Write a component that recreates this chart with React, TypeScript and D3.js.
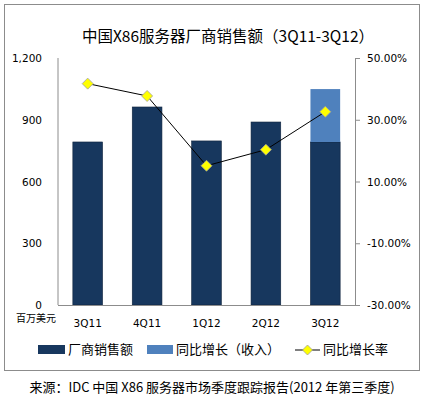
import React from "react";
import * as d3 from "d3";

const categories = ["3Q11", "4Q11", "1Q12", "2Q12", "3Q12"];
const sales = [792, 962, 797, 889, 792];
const growthIncrement = [0, 0, 0, 0, 257];
const growthRate = [41.7, 37.7, 15.1, 20.3, 32.6];
const leftTicks = [0, 300, 600, 900, 1200];
const rightTicks = [-30, -10, 10, 30, 50];

const W = 424;
const H = 398;
const M = { left: 58, right: 355, top: 58, bottom: 305 };
const numFont = "'DejaVu Sans', Verdana, sans-serif";
const cjkFont = "'Noto Sans CJK SC', 'DejaVu Sans', sans-serif";

export default function App() {
  const x = d3.scaleBand<string>().domain(categories).range([M.left, M.right]).paddingInner(0.5).paddingOuter(0.25);
  const y = d3.scaleLinear().domain([0, 1200]).range([M.bottom, M.top]);
  const y2 = d3.scaleLinear().domain([-30, 50]).range([M.bottom, M.top]);
  const cx = (c: string) => (x(c) as number) + x.bandwidth() / 2;
  const line = d3
    .line<number>()
    .x((_, i) => cx(categories[i]))
    .y((d) => y2(d));
  const fmtL = d3.format(",");
  const diamond = (px: number, py: number, r: number) =>
    `M${px},${py - r}L${px + r},${py}L${px},${py + r}L${px - r},${py}Z`;

  return (
    <svg
      width={W}
      height={H}
      style={{ position: "absolute", left: 0, top: 0, background: "#fff" }}
    >
      <rect x={4.5} y={4.5} width={415} height={366} fill="#fff" stroke="#8c8c8c" strokeWidth={1} />
      <text x={228} y={42} textAnchor="middle" fontFamily={cjkFont} fontSize={15.5} fill="#000">
        中国X86服务器厂商销售额（3Q11-3Q12）
      </text>

      {/* bars */}
      {categories.map((c, i) => (
        <g key={c}>
          <rect
            x={x(c)}
            y={y(sales[i])}
            width={x.bandwidth()}
            height={y(0) - y(sales[i])}
            fill="#17375E"
            stroke="#10243d"
            strokeWidth={0.6}
          />
          {growthIncrement[i] > 0 && (
            <rect
              x={x(c)}
              y={y(sales[i] + growthIncrement[i])}
              width={x.bandwidth()}
              height={y(sales[i]) - y(sales[i] + growthIncrement[i])}
              fill="#4F81BD"
            />
          )}
        </g>
      ))}

      {/* axes */}
      <line x1={M.left} x2={M.left} y1={M.top} y2={M.bottom} stroke="#8c8c8c" />
      <line x1={M.left} x2={M.right} y1={M.bottom + 0.5} y2={M.bottom + 0.5} stroke="#8c8c8c" />
      <line x1={M.right + 0.5} x2={M.right + 0.5} y1={M.top} y2={M.bottom} stroke="#8c8c8c" />
      {leftTicks.map((t) => (
        <text key={t} x={42} y={y(t) + 4} textAnchor="end" fontFamily={numFont} fontSize={10.5} fill="#000">
          {fmtL(t)}
        </text>
      ))}
      {rightTicks.map((t) => (
        <g key={t}>
          <line x1={M.right} x2={M.right + 5} y1={y2(t) + 0.5} y2={y2(t) + 0.5} stroke="#8c8c8c" />
          <text x={367} y={y2(t) + 4} fontFamily={numFont} fontSize={10.5} fill="#000">
            {t.toFixed(2) + "%"}
          </text>
        </g>
      ))}
      <text x={36} y={322} textAnchor="middle" fontFamily={cjkFont} fontSize={10} fill="#000">
        百万美元
      </text>
      {categories.map((c) => (
        <text key={c} x={cx(c)} y={327} textAnchor="middle" fontFamily={numFont} fontSize={10.5} fill="#000">
          {c}
        </text>
      ))}

      {/* growth line */}
      <path d={line(growthRate) || ""} fill="none" stroke="#000" strokeWidth={1} />
      {growthRate.map((v, i) => (
        <path key={i} d={diamond(cx(categories[i]), y2(v), 5.5)} fill="#FFFF00" stroke="#a0a0a0" strokeWidth={0.8} />
      ))}

      {/* legend */}
      <rect x={38} y={345} width={27} height={9} fill="#17375E" />
      <text x={68} y={354} fontFamily={cjkFont} fontSize={13} fill="#000">厂商销售额</text>
      <rect x={147} y={345} width={26} height={9} fill="#4F81BD" />
      <text x={176} y={354} fontFamily={cjkFont} fontSize={13} fill="#000">同比增长（收入）</text>
      <line x1={295} x2={320} y1={350} y2={350} stroke="#000" />
      <path d={diamond(307.5, 350, 5)} fill="#FFFF00" stroke="#a0a0a0" strokeWidth={0.8} />
      <text x={323} y={354} fontFamily={cjkFont} fontSize={13} fill="#000">同比增长率</text>

      {/* source */}
      <text x={212} y={392} textAnchor="middle" fontFamily={cjkFont} fontSize={13} fill="#000">
        来源：IDC 中国 X86 服务器市场季度跟踪报告(2012 年第三季度)
      </text>
    </svg>
  );
}
